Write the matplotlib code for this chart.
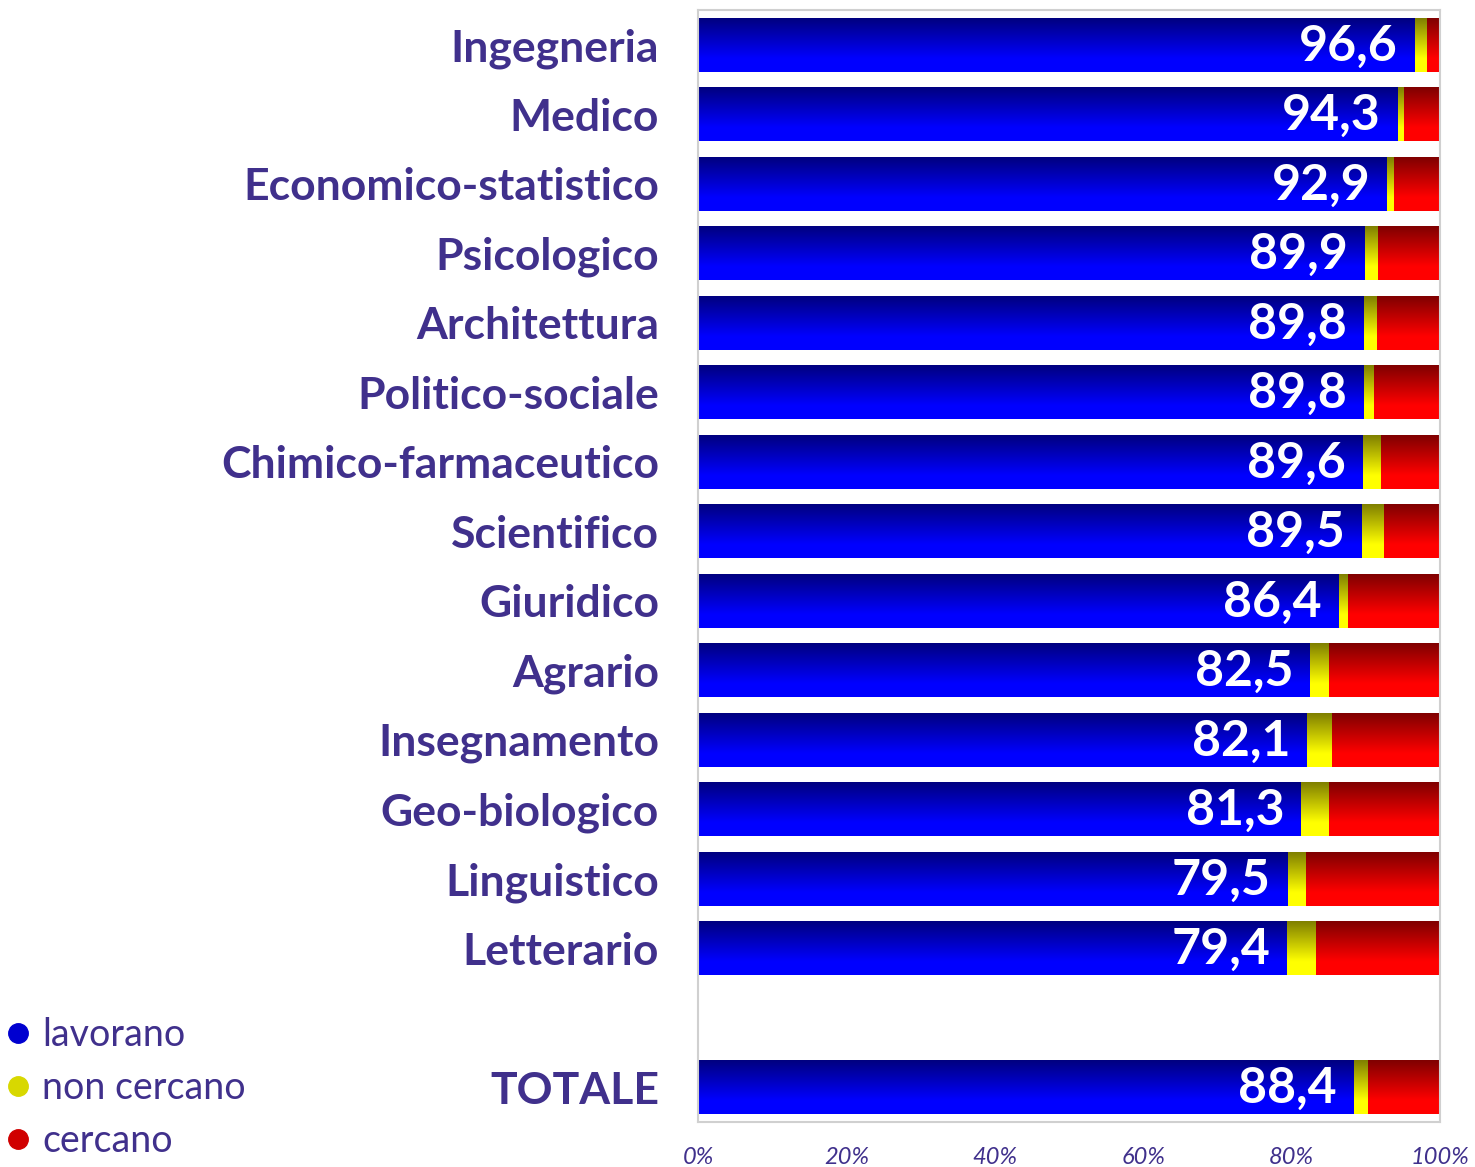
import numpy as np
import matplotlib
matplotlib.use("Agg")
import matplotlib.pyplot as plt
from matplotlib.lines import Line2D

categorie = ["Ingegneria", "Medico", "Economico-statistico", "Psicologico",
             "Architettura", "Politico-sociale", "Chimico-farmaceutico",
             "Scientifico", "Giuridico", "Agrario", "Insegnamento",
             "Geo-biologico", "Linguistico", "Letterario", "TOTALE"]
lavorano = [96.6, 94.3, 92.9, 89.9, 89.8, 89.8, 89.6, 89.5, 86.4, 82.5,
            82.1, 81.3, 79.5, 79.4, 88.4]
non_cercano = [1.6, 0.9, 0.9, 1.7, 1.7, 1.3, 2.4, 2.9, 1.2, 2.6,
               3.4, 3.7, 2.4, 3.9, 1.9]
cercano = [100 - a - b for a, b in zip(lavorano, non_cercano)]
tick_valori = [0, 20, 40, 60, 80, 100]

VIOLA = "#40308c"
plt.rcParams["font.family"] = ["Lato", "DejaVu Sans"]

# TOTALE separato dagli altri da una riga vuota
pos = list(range(len(categorie) - 1)) + [len(categorie)]


def gradiente(rgb):
    t = np.linspace(0, 1, 64)
    f = 0.5 + 0.5 * np.minimum(t / 0.75, 1.0)
    img = np.zeros((64, 2, 3))
    for k in range(3):
        img[:, :, k] = (f * rgb[k])[:, None]
    return img


fig = plt.figure(figsize=(14.75, 11.67), dpi=100)
ax = fig.add_axes([698 / 1475, 1 - 1122 / 1167, 742 / 1475, 1112 / 1167])

serie = [(lavorano, (0, 0, 1)), (non_cercano, (1, 1, 0)), (cercano, (1, 0, 0))]
sinistra = np.zeros(len(pos))
for valori, rgb in serie:
    barre = ax.barh(pos, valori, left=sinistra, height=0.775, color="none",
                    edgecolor="none")
    img = gradiente(rgb)
    for p in barre.patches:
        x, y, w, h = p.get_x(), p.get_y(), p.get_width(), p.get_height()
        im = ax.imshow(img, extent=(x, x + w, y + h, y), origin="upper",
                       aspect="auto", interpolation="bilinear", zorder=2)
        im.set_clip_path(p)
    sinistra = sinistra + np.array(valori)

for p, v in zip(pos, lavorano):
    ax.text(v - 2.3, p + 0.02, f"{v:.1f}".replace(".", ","), ha="right",
            va="center", color="white", fontsize=36, fontweight="bold",
            zorder=3)

ax.set_xlim(0, 100)
ax.set_ylim(15.5, -0.5)
ax.set_yticks(pos)
ax.set_yticklabels(categorie, fontsize=32, fontweight="bold", color=VIOLA)
ax.set_xticks(tick_valori)
ax.set_xticklabels([f"{t}%" for t in tick_valori], fontsize=17,
                   style="italic", color=VIOLA)
ax.tick_params(axis="y", length=0, pad=28)
ax.tick_params(axis="x", length=0, pad=18)
for s in ax.spines.values():
    s.set_color("#d0d0d0")
    s.set_linewidth(1.5)

maniglie = [Line2D([], [], marker="o", linestyle="none", markersize=14,
                   markerfacecolor=c, markeredgecolor=c)
            for c in ["#0000d0", "#d8d800", "#d00000"]]
fig.legend(maniglie, ["lavorano", "non cercano", "cercano"],
           loc="lower left", bbox_to_anchor=(5 / 1475, 8 / 1167),
           frameon=False, fontsize=27, labelcolor=VIOLA, handletextpad=0.3,
           labelspacing=0.45, borderaxespad=0, borderpad=0, handlelength=0.7)

fig.savefig("out.png", dpi=100)
